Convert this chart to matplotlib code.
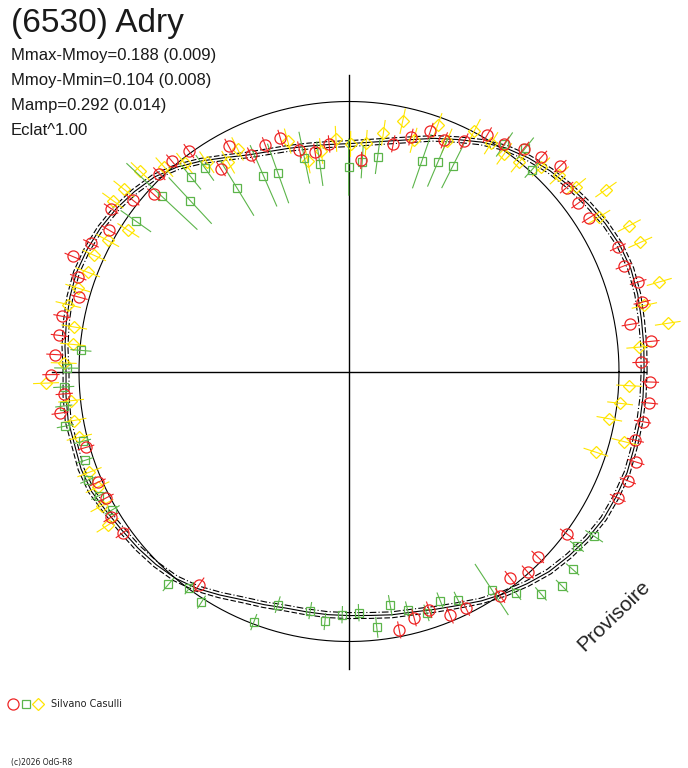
import numpy as np
import matplotlib
matplotlib.use("Agg")
import matplotlib.pyplot as plt
from matplotlib.lines import Line2D

# Polar light curve of (6530) Adry: angle = rotation phase (deg), radius = relative flux (1 = mean)
fit_angle = np.arange(0, 360, 5)
fit_r = [1.093, 1.096, 1.100, 1.107, 1.111, 1.107, 1.096, 1.081, 1.067, 1.052,
         1.033, 1.011, 0.981, 0.948, 0.919, 0.889, 0.867, 0.852, 0.844, 0.844,
         0.848, 0.856, 0.867, 0.885, 0.915, 0.952, 0.989, 1.019, 1.037, 1.052,
         1.063, 1.070, 1.074, 1.070, 1.063, 1.056, 1.048, 1.052, 1.056, 1.052,
         1.056, 1.052, 1.037, 1.026, 1.019, 1.011, 1.000, 0.981, 0.956, 0.933,
         0.919, 0.907, 0.904, 0.904, 0.904, 0.907, 0.915, 0.922, 0.937, 0.956,
         0.981, 1.004, 1.026, 1.048, 1.063, 1.078, 1.089, 1.093, 1.096, 1.093,
         1.093, 1.093]
fit_err = 0.011

red_angle = [1.8, 5.7, 9.5, 13.3, 17.2, 21.0, 24.8, 32.6, 36.3, 40.2,
             44.2, 48.1, 51.9, 55.7, 59.7, 63.4, 67.6, 71.3, 75.2, 79.0,
             86.7, 95.0, 98.8, 102.6, 106.4, 110.3, 114.4, 118.1, 122.3, 126.0,
             130.1, 133.8, 137.8, 141.6, 145.6, 149.5, 153.6, 157.4, 160.8, 164.6,
             169.1, 172.9, 176.7, 180.6, 184.5, 188.2, 196.1, 203.8, 207.5, 211.5,
             215.5, 234.9, 281.0, 284.8, 288.6, 292.5, 296.3, 304.0, 308.0, 311.7,
             315.5, 323.3, 334.8, 338.6, 342.5, 346.5, 350.3, 354.0, 358.0]
red_r = [1.082, 1.124, 1.056, 1.115, 1.121, 1.090, 1.097, 1.056, 1.054, 1.055,
         1.091, 1.066, 1.049, 1.021, 1.015, 0.954, 0.926, 0.940, 0.898, 0.859,
         0.783, 0.846, 0.822, 0.841, 0.901, 0.893, 0.879, 0.945, 0.888, 1.009,
         1.018, 1.015, 0.976, 1.023, 1.068, 1.033, 1.067, 1.109, 1.062, 1.036,
         1.083, 1.081, 1.091, 1.104, 1.058, 1.081, 1.014, 1.017, 1.015, 1.034,
         1.029, 0.965, 0.975, 0.944, 0.931, 0.978, 0.977, 1.001, 0.970, 0.995,
         0.980, 1.007, 1.100, 1.109, 1.115, 1.091, 1.103, 1.119, 1.117]
red_err = 0.030

green_angle = [47.8, 51.7, 55.6, 63.2, 67.0, 70.9, 82.4, 86.4, 90.1, 98.0,
               101.8, 109.7, 113.6, 121.4, 125.3, 129.1, 132.9, 136.9, 144.8, 175.5,
               179.3, 183.1, 186.9, 190.9, 194.7, 198.6, 202.6, 206.4, 210.3, 229.7,
               233.6, 237.4, 249.2, 253.0, 260.8, 264.5, 268.4, 272.3, 276.2, 280.0,
               283.8, 287.8, 291.7, 295.5, 303.2, 307.0, 310.8, 314.8, 318.5, 322.5,
               326.1]
green_r = [1.008, 1.054, 1.019, 0.852, 0.842, 0.824, 0.803, 0.778, 0.757, 0.777,
           0.809, 0.779, 0.791, 0.797, 0.924, 0.927, 0.864, 0.949, 0.966, 0.996,
           1.046, 1.058, 1.064, 1.070, 1.020, 1.031, 1.046, 1.034, 1.016, 1.034,
           0.997, 1.014, 0.993, 0.903, 0.897, 0.930, 0.901, 0.894, 0.953, 0.880,
           0.909, 0.939, 0.913, 0.936, 0.965, 1.027, 1.088, 1.120, 1.106, 1.064,
           1.094]
green_err = [0.037, 0.048, 0.052, 0.089, 0.096, 0.104, 0.063, 0.059, 0.104, 0.081,
             0.096, 0.115, 0.122, 0.119, 0.056, 0.056, 0.115, 0.178, 0.067, 0.037,
             0.044, 0.037, 0.030, 0.030, 0.030, 0.030, 0.030, 0.030, 0.030, 0.030,
             0.026, 0.026, 0.030, 0.030, 0.030, 0.030, 0.030, 0.030, 0.037, 0.037,
             0.030, 0.030, 0.030, 0.030, 0.111, 0.030, 0.030, 0.030, 0.030, 0.030,
             0.037]

yellow_angle = [4.8, 8.6, 12.6, 16.1, 23.9, 27.5, 31.7, 35.3, 39.2, 43.0,
                46.8, 50.9, 54.5, 58.1, 62.5, 67.0, 70.2, 74.4, 77.9, 81.8,
                85.7, 89.6, 93.2, 97.2, 101.1, 104.9, 116.6, 120.0, 124.2, 128.3,
                132.1, 136.2, 141.0, 144.1, 147.4, 151.5, 155.5, 159.2, 162.9, 166.6,
                170.8, 174.4, 178.3, 182.2, 186.0, 190.1, 193.7, 201.2, 204.7, 208.5,
                212.5, 341.9, 345.7, 349.7, 353.3, 357.1]
yellow_r = [1.079, 1.194, 1.121, 1.196, 1.180, 1.170, 1.089, 1.166, 1.084, 1.065,
            1.039, 0.999, 0.990, 0.996, 1.006, 0.929, 0.969, 0.889, 0.948, 0.893,
            0.849, 0.843, 0.863, 0.823, 0.796, 0.883, 0.922, 0.895, 0.937, 0.983,
            1.020, 1.071, 1.074, 1.080, 0.970, 1.017, 1.037, 1.035, 1.051, 1.069,
            1.031, 1.028, 1.057, 1.123, 1.035, 1.036, 1.028, 1.031, 1.025, 1.041,
            1.060, 0.962, 1.052, 0.980, 1.011, 1.039]
yellow_err = 0.046

title = "(6530) Adry"
info_lines = ["Mmax-Mmoy=0.188 (0.009)", "Mmoy-Mmin=0.104 (0.008)",
              "Mamp=0.292 (0.014)", "Eclat^1.00"]
observer = "Silvano Casulli"

RED, GREEN, YELLOW = "#ee2424", "#5cb54a", "#ffe500"

W, H = 688, 768
CX, CY, SCALE = 349, 371.5, 270.0

fig = plt.figure(figsize=(W / 100, H / 100), dpi=100)
ax = fig.add_axes([0, 0, 1, 1])
ax.set_xlim(-CX / SCALE, (W - CX) / SCALE)
ax.set_ylim(-(H - CY) / SCALE, CY / SCALE)
ax.axis("off")


def to_xy(ang, r):
    a = np.radians(np.asarray(ang, dtype=float))
    r = np.asarray(r, dtype=float)
    return r * np.cos(a), r * np.sin(a)


# reference circle and axes
t = np.linspace(0, 2 * np.pi, 400)
ax.plot(np.cos(t), np.sin(t), color="black", lw=0.8)
ax.plot([-1.1, 1.1], [0, 0], color="black", lw=1.0)
ax.plot([0, 0], [-1.1, 1.1], color="black", lw=1.0)

# fitted curve with its error envelope
fa = np.append(fit_angle, 360)
fr = np.append(fit_r, fit_r[0])
x, y = to_xy(fa, fr)
ax.plot(x, y, color="black", lw=0.8)
x, y = to_xy(fa, fr + fit_err)
ax.plot(x, y, color="black", lw=0.8, dashes=(5, 2))
x, y = to_xy(fa, fr - fit_err)
ax.plot(x, y, color="black", lw=0.8, dashes=(6, 2, 1, 2))


def radial_points(ang, r, err, color, marker, ms):
    err = np.broadcast_to(np.asarray(err, dtype=float), np.shape(r))
    x0, y0 = to_xy(ang, np.asarray(r) - err)
    x1, y1 = to_xy(ang, np.asarray(r) + err)
    nan = np.full(len(x0), np.nan)
    ax.plot(np.column_stack([x0, x1, nan]).ravel(),
            np.column_stack([y0, y1, nan]).ravel(), color=color, lw=0.8)
    xs, ys = to_xy(ang, r)
    ax.plot(xs, ys, ls="none", marker=marker, ms=ms, mfc="none",
            mec=color, mew=0.9)


radial_points(yellow_angle, yellow_r, yellow_err, YELLOW, "D", 6.3)
radial_points(green_angle, green_r, green_err, GREEN, "s", 6.3)
radial_points(red_angle, red_r, red_err, RED, "o", 8.0)

# texts
fig.text(11 / W, 1 - 32 / H, title, fontsize=24, family="Liberation Sans",
         va="baseline", color="#1a1a1a")
for i, line in enumerate(info_lines):
    fig.text(11 / W, 1 - (60 + 25 * i) / H, line, fontsize=12,
             family="Liberation Sans", va="baseline", color="#1a1a1a")

ax.text((614 - CX) / SCALE, (CY - 616) / SCALE, "Provisoire", fontsize=15,
        family="Liberation Sans", rotation=44, rotation_mode="anchor",
        ha="center", va="center", color="#222222")

# observer legend
ly = 1 - 704.3 / H
for px, mk, col, ms in [(13, "o", RED, 8.0), (25.5, "s", GREEN, 6.3),
                        (38, "D", YELLOW, 6.3)]:
    fig.add_artist(Line2D([px / W], [ly], transform=fig.transFigure, marker=mk,
                          ms=ms, mfc="none", mec=col, mew=0.9, ls="none"))
fig.text(50.5 / W, ly, observer, fontsize=7, va="center", color="#222222")

fig.text(11.5 / W, 1 - 762.5 / H, "(c)2026 OdG-R8", fontsize=5.5,
         va="center", color="#222222")

fig.savefig("out.png", dpi=100)
